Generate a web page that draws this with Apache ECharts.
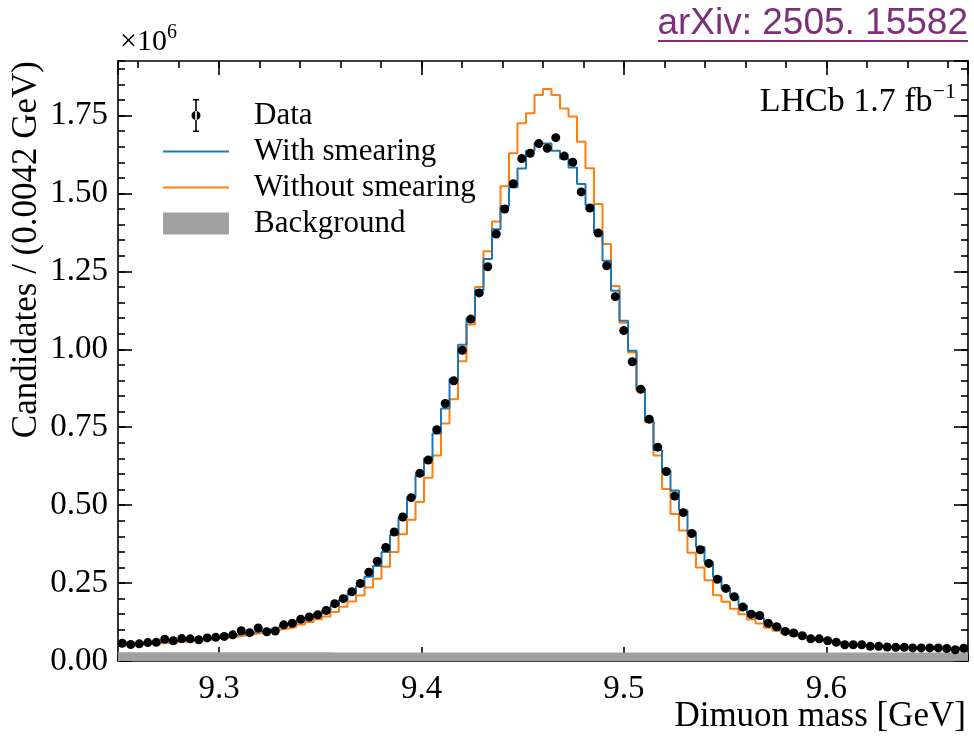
<!DOCTYPE html>
<html>
<head>
<meta charset="utf-8">
<title>Dimuon mass</title>
<script src="https://cdn.jsdelivr.net/npm/echarts@6/dist/echarts.min.js"></script>
<style>
  html, body { margin: 0; padding: 0; background: #fff; }
  #chart { width: 974px; height: 741px; }
</style>
</head>
<body>
<div id="chart"></div>
<script>
// binning: 100 bins of 0.0042 GeV starting at 9.25 GeV
const binLow = 9.25;
const binWidth = 0.0042;
const xMin = 9.25;
const xMax = 9.67;
const yMax = 1.925; // in units of 1e6

const xTickLabels = [9.3, 9.4, 9.5, 9.6];
const yTickLabels = [0, 0.25, 0.5, 0.75, 1.0, 1.25, 1.5, 1.75];

// candidates per bin, x 1e6
const dataVals = [
  0.057, 0.053, 0.055, 0.059, 0.060, 0.070, 0.065, 0.072, 0.071, 0.068,
  0.074, 0.076, 0.079, 0.084, 0.097, 0.091, 0.106, 0.094, 0.096, 0.116,
  0.121, 0.134, 0.141, 0.148, 0.162, 0.184, 0.200, 0.222, 0.249, 0.285,
  0.320, 0.364, 0.414, 0.462, 0.524, 0.602, 0.645, 0.742, 0.826, 0.899,
  0.997, 1.097, 1.181, 1.265, 1.370, 1.450, 1.531, 1.612, 1.629, 1.660,
  1.645, 1.679, 1.620, 1.600, 1.505, 1.453, 1.373, 1.268, 1.169, 1.060,
  0.960, 0.872, 0.776, 0.686, 0.608, 0.529, 0.476, 0.409, 0.357, 0.313,
  0.262, 0.233, 0.206, 0.173, 0.150, 0.146, 0.121, 0.110, 0.095, 0.090,
  0.081, 0.071, 0.071, 0.065, 0.060, 0.052, 0.052, 0.052, 0.047, 0.047,
  0.045, 0.044, 0.044, 0.042, 0.042, 0.042, 0.042, 0.040, 0.036, 0.041
];

const withSmearing = [
  0.056, 0.056, 0.057, 0.058, 0.060, 0.062, 0.064, 0.066, 0.068, 0.070,
  0.073, 0.076, 0.079, 0.083, 0.087, 0.091, 0.096, 0.101, 0.107, 0.114,
  0.121, 0.130, 0.139, 0.150, 0.163, 0.178, 0.196, 0.216, 0.240, 0.270,
  0.305, 0.350, 0.405, 0.460, 0.525, 0.595, 0.650, 0.730, 0.810, 0.905,
  1.015, 1.100, 1.190, 1.290, 1.385, 1.460, 1.520, 1.580, 1.637, 1.660,
  1.660, 1.637, 1.612, 1.583, 1.530, 1.463, 1.375, 1.284, 1.188, 1.092,
  0.995, 0.873, 0.771, 0.677, 0.611, 0.547, 0.483, 0.414, 0.366, 0.318,
  0.270, 0.235, 0.206, 0.178, 0.155, 0.137, 0.122, 0.110, 0.099, 0.090,
  0.082, 0.075, 0.069, 0.064, 0.060, 0.056, 0.053, 0.051, 0.049, 0.047,
  0.046, 0.045, 0.044, 0.043, 0.042, 0.041, 0.041, 0.040, 0.040, 0.039
];

const withoutSmearing = [
  0.052, 0.053, 0.054, 0.055, 0.056, 0.058, 0.060, 0.062, 0.064, 0.066,
  0.069, 0.072, 0.075, 0.078, 0.082, 0.086, 0.090, 0.095, 0.100, 0.104,
  0.110, 0.117, 0.125, 0.134, 0.143, 0.157, 0.174, 0.191, 0.210, 0.236,
  0.264, 0.302, 0.350, 0.407, 0.453, 0.510, 0.588, 0.659, 0.762, 0.840,
  0.962, 1.080, 1.200, 1.315, 1.410, 1.523, 1.629, 1.725, 1.757, 1.816,
  1.835, 1.816, 1.773, 1.747, 1.666, 1.581, 1.466, 1.338, 1.203, 1.085,
  0.990, 0.867, 0.766, 0.659, 0.552, 0.472, 0.419, 0.347, 0.300, 0.259,
  0.211, 0.190, 0.168, 0.150, 0.133, 0.120, 0.107, 0.097, 0.089, 0.082,
  0.076, 0.070, 0.065, 0.061, 0.057, 0.054, 0.051, 0.049, 0.047, 0.045,
  0.044, 0.043, 0.042, 0.041, 0.040, 0.040, 0.039, 0.038, 0.038, 0.037
];

const background = [
  0.028, 0.028, 0.028, 0.028, 0.028, 0.028, 0.028, 0.028, 0.028, 0.028,
  0.028, 0.028, 0.028, 0.028, 0.028, 0.028, 0.028, 0.028, 0.028, 0.028,
  0.028, 0.028, 0.028, 0.028, 0.028, 0.027, 0.027, 0.027, 0.027, 0.027,
  0.027, 0.027, 0.027, 0.027, 0.027, 0.027, 0.027, 0.027, 0.027, 0.027,
  0.027, 0.027, 0.027, 0.027, 0.027, 0.027, 0.027, 0.027, 0.027, 0.027,
  0.027, 0.027, 0.027, 0.027, 0.027, 0.027, 0.027, 0.027, 0.027, 0.027,
  0.027, 0.027, 0.027, 0.027, 0.027, 0.027, 0.027, 0.027, 0.027, 0.027,
  0.027, 0.027, 0.027, 0.027, 0.027, 0.027, 0.027, 0.027, 0.027, 0.027,
  0.027, 0.027, 0.027, 0.027, 0.027, 0.027, 0.027, 0.027, 0.027, 0.027,
  0.027, 0.027, 0.027, 0.027, 0.027, 0.027, 0.027, 0.027, 0.027, 0.027
];

const SERIF = '"Liberation Serif", "Times New Roman", serif';
const BLUE = "#1f77b4";
const ORANGE = "#ff7f0e";
const GREY = "#a0a0a0";

const binEdge = (i) => +(binLow + binWidth * i).toFixed(5);
const binCenter = (i) => +(binLow + binWidth * (i + 0.5)).toFixed(5);

// step histogram: one point per lower bin edge plus the closing upper edge
const toSteps = (vals) => {
  const pts = vals.map((v, i) => [binEdge(i), v]);
  pts.push([binEdge(vals.length), vals[vals.length - 1]]);
  return pts;
};

const frameLine = { color: "#000", width: 1.6 };

const makeX = (position, major, extra) => Object.assign({
  type: "value",
  min: xMin,
  max: xMax,
  position: position,
  axisLine: { show: major, onZero: false, lineStyle: frameLine },
  axisTick: { show: true, inside: true, length: major ? 14 : 7, lineStyle: frameLine },
  axisLabel: { show: false },
  splitLine: { show: false }
}, extra);

const makeY = (position, major, extra) => Object.assign({
  type: "value",
  min: 0,
  max: yMax,
  interval: major ? 0.25 : 0.05,
  position: position,
  axisLine: { show: major, onZero: false, lineStyle: frameLine },
  axisTick: { show: true, inside: true, length: major ? 14 : 7, lineStyle: frameLine },
  axisLabel: { show: false },
  splitLine: { show: false }
}, extra);

const chart = echarts.init(document.getElementById("chart"));

chart.setOption({
  animation: false,
  backgroundColor: "#fff",
  grid: { left: 118, right: 6, top: 61, bottom: 80, containLabel: false, outerBoundsMode: "none" },
  xAxis: [
    makeX("bottom", true, {
      axisLabel: {
        show: true,
        showMinLabel: false,
        showMaxLabel: false,
        margin: 12,
        fontFamily: SERIF,
        fontSize: 33,
        color: "#000",
        formatter: (v) => (xTickLabels.some((t) => Math.abs(t - v) < 1e-6) ? v.toFixed(1) : "")
      }
    }),
    makeX("bottom", false, { splitNumber: 21 }),
    makeX("top", true, {}),
    makeX("top", false, { splitNumber: 21 })
  ],
  yAxis: [
    makeY("left", true, {
      axisLabel: {
        show: true,
        showMaxLabel: false,
        margin: 10,
        fontFamily: SERIF,
        fontSize: 33,
        color: "#000",
        formatter: (v) => (yTickLabels.some((t) => Math.abs(t - v) < 1e-6) ? v.toFixed(2) : "")
      }
    }),
    makeY("left", false, {}),
    makeY("right", true, {}),
    makeY("right", false, {})
  ],
  legend: [
    {
      data: [{
        name: "Data",
        icon: "path://M0,0M66,33M32.2,0h1.6v33h-1.6zM30,0h6v1.5h-6zM30,31.5h6v1.5h-6zM28.5,16.5a4.5,4.5 0 1 0 9,0a4.5,4.5 0 1 0 -9,0z"
      }],
      left: 163, top: 99, padding: 0, orient: "vertical",
      itemWidth: 66, itemHeight: 33, selectedMode: false,
      itemStyle: { borderWidth: 0 },
      textStyle: { fontFamily: SERIF, fontSize: 31, lineHeight: 31, color: "#000", padding: [0, 0, 0, 20] }
    },
    {
      data: [
        { name: "With smearing", icon: "path://M0,0h66v2h-66z" },
        { name: "Without smearing", icon: "path://M0,0h66v2h-66z" }
      ],
      left: 163, top: 136, padding: 0, orient: "vertical", itemGap: 5,
      itemWidth: 66, itemHeight: 2, selectedMode: false,
      itemStyle: { borderWidth: 0 },
      textStyle: { fontFamily: SERIF, fontSize: 31, lineHeight: 31, color: "#000", padding: [0, 0, 0, 20] }
    },
    {
      data: [{ name: "Background", icon: "rect" }],
      left: 163, top: 208, padding: 0, orient: "vertical",
      itemWidth: 66, itemHeight: 22, selectedMode: false,
      itemStyle: { borderWidth: 0 },
      textStyle: { fontFamily: SERIF, fontSize: 31, lineHeight: 31, color: "#000", padding: [0, 0, 0, 20] }
    }
  ],
  graphic: [
    {
      type: "text", x: 968, y: 24,
      style: {
        text: "arXiv: 2505. 15582", align: "right", verticalAlign: "middle",
        font: '37px "Liberation Sans", Arial, sans-serif', fill: "#7e2f7b"
      }
    },
    { type: "rect", shape: { x: 658, y: 40, width: 310, height: 2 }, style: { fill: "#7e2f7b" } },
    {
      type: "text", x: 120, y: 40,
      style: {
        text: "{a|×10}{s|6}", align: "left", verticalAlign: "middle",
        rich: {
          a: { fontFamily: SERIF, fontSize: 30, lineHeight: 34, verticalAlign: "bottom", fill: "#000" },
          s: { fontFamily: SERIF, fontSize: 20, lineHeight: 20, verticalAlign: "top", fill: "#000" }
        }
      }
    },
    {
      type: "text", x: 956, y: 100,
      style: {
        text: "{a|LHCb 1.7 fb}{s|−1}", align: "right", verticalAlign: "middle",
        rich: {
          a: { fontFamily: SERIF, fontSize: 34, lineHeight: 38, verticalAlign: "bottom", fill: "#000" },
          s: { fontFamily: SERIF, fontSize: 22, lineHeight: 22, verticalAlign: "top", fill: "#000" }
        }
      }
    },
    {
      type: "text", x: 27, y: 61, rotation: Math.PI / 2,
      style: {
        text: "Candidates / (0.0042 GeV)", align: "right", verticalAlign: "middle",
        font: '35px ' + SERIF, fill: "#000"
      }
    },
    {
      type: "text", x: 966, y: 717,
      style: {
        text: "Dimuon mass [GeV]", align: "right", verticalAlign: "middle",
        font: '35px ' + SERIF, fill: "#000"
      }
    }
  ],
  series: [
    {
      name: "Background", type: "line", step: "end", symbol: "none", silent: true,
      color: GREY, z: 1,
      lineStyle: { width: 0 }, areaStyle: { color: GREY, opacity: 1 },
      data: toSteps(background)
    },
    {
      name: "Without smearing", type: "line", step: "end", symbol: "none", silent: true,
      color: ORANGE, z: 2, lineStyle: { width: 2, color: ORANGE },
      data: toSteps(withoutSmearing)
    },
    {
      name: "With smearing", type: "line", step: "end", symbol: "none", silent: true,
      color: BLUE, z: 3, lineStyle: { width: 2, color: BLUE },
      data: toSteps(withSmearing)
    },
    {
      name: "Data", type: "scatter", symbol: "circle", symbolSize: 9, silent: true,
      color: "#000", z: 4, itemStyle: { opacity: 1 },
      data: dataVals.map((v, i) => [binCenter(i), v])
    }
  ]
});
</script>
</body>
</html>
